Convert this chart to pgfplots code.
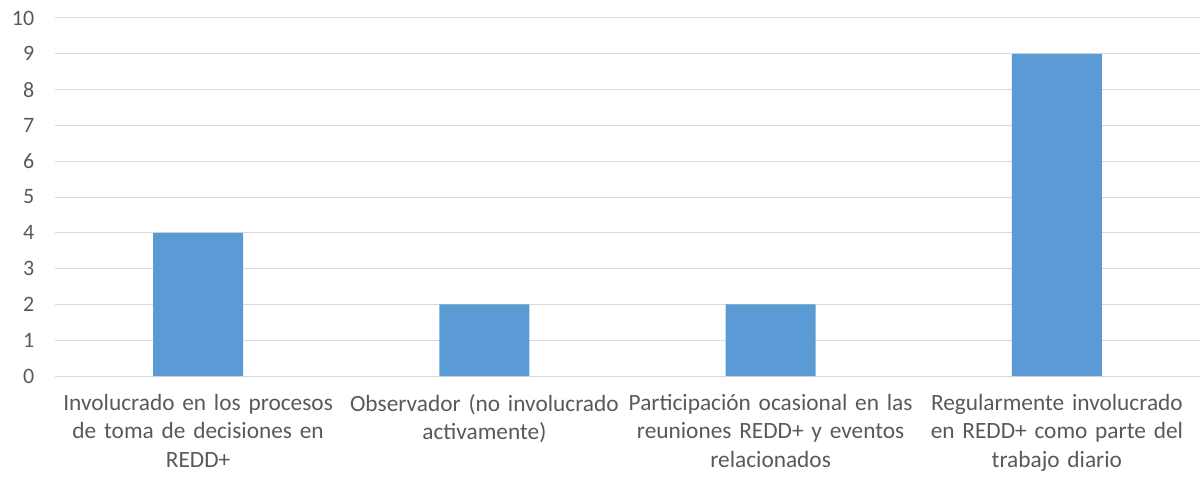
\documentclass[border=0pt]{standalone}
\usepackage{fontspec}
\setmainfont{Carlito}
\usepackage{pgfplots}
\pgfplotsset{compat=1.18}
\definecolor{barblue}{HTML}{5B9BD5}
\definecolor{gridgray}{HTML}{D9D9D9}
\definecolor{textgray}{HTML}{595959}
\begin{document}
\begin{tikzpicture}
\useasboundingbox (-41.25pt,-77.25pt) rectangle (859.5pt,282pt);
\begin{axis}[
  at={(0,0)}, anchor=south west,
  scale only axis, width=858.75pt, height=268.5pt,
  ybar, bar width=67.5pt,
  xmin=-0.5, xmax=3.5, ymin=0, ymax=10,
  xtick={0,1,2,3},
  xticklabels={{Involucrado en los procesos\\de toma de decisiones en\\REDD+},
               {Observador (no involucrado\\activamente)},
               {Participación ocasional en las\\reuniones REDD+ y eventos\\relacionados},
               {Regularmente involucrado\\en REDD+ como parte del\\trabajo diario}},
  ytick={0,1,...,10},
  ymajorgrids, grid style={gridgray, line width=0.75pt},
  axis line style={draw=none},
  major tick length=0pt,
  tick label style={text=textgray},
  yticklabel style={font=\fontsize{16.5pt}{20pt}\selectfont, xshift=-12pt},
  xticklabel style={font=\fontsize{17.5pt}{21.4pt}\selectfont,
    align=center, text width=230pt, yshift=-10pt},
  /pgf/number format/assume math mode=true,
  clip=false,
]
\addplot[fill=barblue, draw=none] coordinates {(0,4) (1,2) (2,2) (3,9)};
\end{axis}
\end{tikzpicture}
\end{document}
